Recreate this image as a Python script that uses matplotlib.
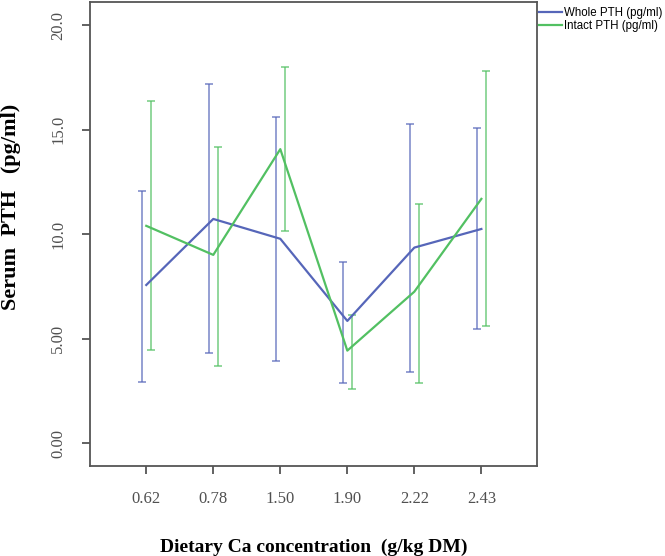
import numpy as np
import matplotlib
matplotlib.use('Agg')
import matplotlib.pyplot as plt

# Data (mean and error-bar ends)
ca_levels = ['0.62', '0.78', '1.50', '1.90', '2.22', '2.43']
whole_mean = [7.57, 10.73, 9.78, 5.85, 9.36, 10.25]
whole_low = [2.95, 4.32, 3.94, 2.90, 3.43, 5.48]
whole_high = [12.07, 17.18, 15.60, 8.67, 15.28, 15.09]
intact_mean = [10.40, 9.01, 14.07, 4.43, 7.25, 11.69]
intact_low = [4.47, 3.70, 10.17, 2.61, 2.90, 5.61]
intact_high = [16.39, 14.19, 17.99, 6.14, 11.43, 17.83]
y_ticks = [0, 5, 10, 15, 20]
y_tick_labels = ['0.00', '5.00', '10.0', '15.0', '20.0']

COLOR_WHOLE = '#5666b9'
COLOR_INTACT = '#52c062'
COLOR_AXIS = '#555555'
COLOR_TICKTEXT = '#505050'

fig = plt.figure(figsize=(6.65, 5.56), dpi=100)
ax = fig.add_axes([0.1353, 0.1619, 0.6722, 0.8345])

x = np.arange(len(ca_levels))
off = 0.067

wm = np.array(whole_mean)
im = np.array(intact_mean)
w_err = [wm - np.array(whole_low), np.array(whole_high) - wm]
i_err = [im - np.array(intact_low), np.array(intact_high) - im]

# error bars (blue slightly left, green slightly right)
ax.errorbar(x - off, wm, yerr=w_err, fmt='none', ecolor=COLOR_WHOLE,
            elinewidth=1.1, capsize=3, capthick=1.1, alpha=0.8)
ax.errorbar(x + off, im, yerr=i_err, fmt='none', ecolor=COLOR_INTACT,
            elinewidth=1.1, capsize=3, capthick=1.1, alpha=0.8)

# mean lines
ax.plot(x, wm, color=COLOR_WHOLE, lw=1.6, label='Whole PTH (pg/ml)')
ax.plot(x, im, color=COLOR_INTACT, lw=1.6, label='Intact PTH (pg/ml)')

ax.set_xlim(-0.84, 5.83)
ax.set_ylim(-1.09, 21.11)

ax.set_xticks(x)
ax.set_xticklabels(ca_levels, family='Liberation Serif', fontsize=12,
                   color=COLOR_TICKTEXT)
ax.set_yticks(y_ticks)
ax.set_yticklabels(y_tick_labels, family='Liberation Serif', fontsize=12,
                   color=COLOR_TICKTEXT, rotation=90, va='center')
ax.tick_params(axis='x', length=6, width=1.3, color=COLOR_AXIS, pad=12)
ax.tick_params(axis='y', length=6, width=1.3, color=COLOR_AXIS, pad=11)

for sp in ax.spines.values():
    sp.set_color(COLOR_AXIS)
    sp.set_linewidth(1.3)

fig.text(0.4714, 0.016, 'Dietary Ca concentration  (g/kg DM)',
         ha='center', va='center', family='Liberation Serif',
         fontsize=14, fontweight='bold')
fig.text(0.017, 0.628, 'Serum  PTH   (pg/ml)', rotation=90,
         ha='center', va='center', family='Liberation Serif',
         fontsize=16, fontweight='bold')

leg = fig.legend(loc='upper left', bbox_to_anchor=(0.81, 0.988),
                 frameon=False, prop={'family': 'Liberation Sans', 'size': 8.3},
                 handlelength=2.0, handletextpad=0.2, borderpad=0,
                 borderaxespad=0, labelspacing=0.15)

fig.savefig('out.png', dpi=100, facecolor='white')
